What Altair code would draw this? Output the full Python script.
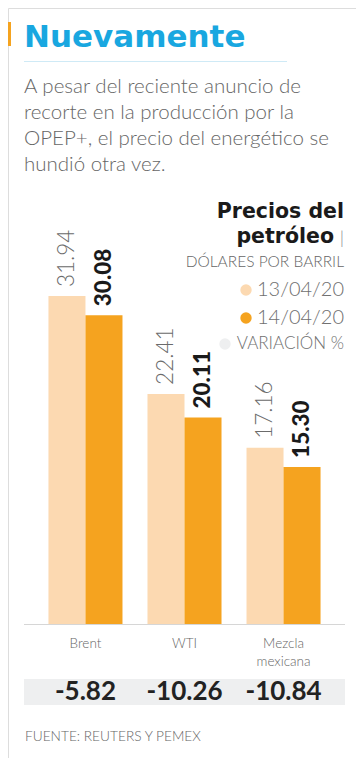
import altair as alt
import pandas as pd

categories = ["Brent", "WTI", "Mezcla\nmexicana"]
series = ["13/04/20", "14/04/20"]
values_13 = [31.94, 22.41, 17.16]
values_14 = [30.08, 20.11, 15.30]
variation = ["-5.82", "-10.26", "-10.84"]

title = "Nuevamente"
subtitle = "A pesar del reciente anuncio de\nrecorte en la producción por la\nOPEP+, el precio del energético se\nhundió otra vez."
source = "FUENTE: REUTERS Y PEMEX"

LIGHT = "#FCD9B1"
ORANGE = "#F5A31F"
GRAY_BAND = "#EEEFF0"
BLUE = "#19A7E0"
TXT = "#666666"
FONT = "Lato"
BOLD = "DejaVu Sans"

rows = []
for c, a, b in zip(categories, values_13, values_14):
    rows.append({"cat": c, "serie": series[0], "v": a, "lab": f"{a:.2f}"})
    rows.append({"cat": c, "serie": series[1], "v": b, "lab": f"{b:.2f}"})
bars_df = pd.DataFrame(rows)
var_df = pd.DataFrame({"cat": categories, "var": variation})
cat_df = pd.DataFrame({"cat": categories})

xs = alt.Scale(domain=categories, range=[16, 337], paddingInner=0.2525, paddingOuter=0.247)
ys = alt.Scale(domain=[0, 60], range=[616, 0])
cs = alt.Scale(domain=series, range=[LIGHT, ORANGE])
X = alt.X("cat:N", scale=xs, axis=None, sort=categories)
Y = alt.Y("v:Q", scale=ys, axis=None)
XO = alt.XOffset("serie:N", sort=series)


def txt(t):
    return pd.DataFrame({"t": [t]})


bars = alt.Chart(bars_df).mark_bar().encode(
    x=X, xOffset=XO, y=Y,
    color=alt.Color("serie:N", scale=cs, legend=None),
)

lab_light = alt.Chart(bars_df).transform_filter(alt.datum.serie == series[0]).mark_text(
    angle=270, align="left", baseline="middle", dx=9, font=FONT, fontSize=22.5,
    fontWeight=300, color="#6b6b6b"
).encode(x=X, xOffset=XO, y=Y, text="lab:N")

lab_dark = alt.Chart(bars_df).transform_filter(alt.datum.serie == series[1]).mark_text(
    angle=270, align="left", baseline="middle", dx=9, font=FONT, fontSize=22.5,
    fontWeight=900, color="#1a1a1a"
).encode(x=X, xOffset=XO, y=Y, text="lab:N")

baseline = alt.Chart(txt("")).mark_rule(color="#d6d6d6", strokeWidth=1).encode(
    x=alt.value(16), x2=alt.value(337), y=alt.value(616.5)
)

cat_labels = alt.Chart(cat_df).mark_text(
    font=FONT, fontSize=13.5, fontWeight=300, color=TXT, baseline="top",
    lineBreak="\n", lineHeight=18
).encode(x=X, y=alt.value(629), text="cat:N")

band = alt.Chart(txt("")).mark_rect(color=GRAY_BAND).encode(
    x=alt.value(16), x2=alt.value(337), y=alt.value(671), y2=alt.value(697)
)

var_labels = alt.Chart(var_df).mark_text(
    font=FONT, fontSize=26, fontWeight="bold", color="#222222", baseline="middle"
).encode(x=X, y=alt.value(684), text="var:N")

square = alt.Chart(txt("")).mark_rect(color=ORANGE).encode(
    x=alt.value(0), x2=alt.value(3), y=alt.value(14), y2=alt.value(38)
)

title_t = alt.Chart(txt(title)).mark_text(
    font=BOLD, fontSize=31, fontWeight="bold", color=BLUE, align="left", baseline="alphabetic"
).encode(x=alt.value(16), y=alt.value(39), text="t:N")

title_rule = alt.Chart(txt("")).mark_rule(color="#CFEAF6", strokeWidth=1).encode(
    x=alt.value(16), x2=alt.value(279), y=alt.value(53.5)
)

sub_t = alt.Chart(txt(subtitle)).mark_text(
    font=FONT, fontSize=20.5, fontWeight=300, color=TXT, align="left", baseline="alphabetic",
    lineBreak="\n", lineHeight=26
).encode(x=alt.value(16), y=alt.value(85), text="t:N")

leg1 = alt.Chart(txt("Precios del")).mark_text(
    font=BOLD, fontSize=20.5, fontWeight="bold", color="#1a1a1a", align="right", baseline="middle"
).encode(x=alt.value(336), y=alt.value(204), text="t:N")

leg2 = alt.Chart(txt("petróleo")).mark_text(
    font=BOLD, fontSize=20.5, fontWeight="bold", color="#1a1a1a", align="right", baseline="middle"
).encode(x=alt.value(326), y=alt.value(229), text="t:N")

leg2b = alt.Chart(txt("|")).mark_text(
    font=FONT, fontSize=18, fontWeight=300, color="#888888", align="right", baseline="middle"
).encode(x=alt.value(336), y=alt.value(231), text="t:N")

leg3 = alt.Chart(txt("DÓLARES POR BARRIL")).mark_text(
    font=FONT, fontSize=15.5, fontWeight=300, color=TXT, align="right", baseline="middle"
).encode(x=alt.value(336), y=alt.value(254), text="t:N")

legend_layers = []
for lbl, col, cx, cy in [(series[0], LIGHT, 238, 282), (series[1], ORANGE, 238, 310),
                         ("VARIACIÓN %", "#EEEFF0", 217, 336)]:
    legend_layers.append(alt.Chart(txt(lbl)).mark_circle(color=col, opacity=1, size=130).encode(
        x=alt.value(cx), y=alt.value(cy)))
    legend_layers.append(alt.Chart(txt(lbl)).mark_text(
        font=FONT, fontSize=20 if lbl != "VARIACIÓN %" else 17, fontWeight=300, color="#707070",
        align="right", baseline="middle"
    ).encode(x=alt.value(336), y=alt.value(cy), text="t:N"))

src = alt.Chart(txt(source)).mark_text(
    font=FONT, fontSize=13.7, fontWeight=300, color=TXT, align="left", baseline="middle"
).encode(x=alt.value(17), y=alt.value(729), text="t:N")

chart = alt.layer(
    band, bars, lab_light, lab_dark, baseline, cat_labels, var_labels,
    square, title_t, title_rule, sub_t, leg1, leg2, leg2b, leg3, *legend_layers, src
).properties(
    width=348, height=750, padding=0, autosize=alt.AutoSizeParams(type="none")
).configure_view(stroke=None).configure(background="white")

chart.save("out.html", embed_options={"renderer": "svg", "actions": False})
